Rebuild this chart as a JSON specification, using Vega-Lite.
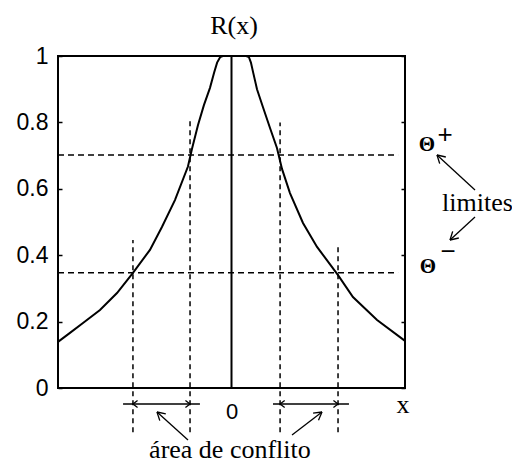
{
  "$schema": "https://vega.github.io/schema/vega-lite/v6.json",
  "width": 347,
  "height": 332,
  "autosize": {"type": "none"},
  "padding": {"left": 58, "top": 56, "right": 107, "bottom": 75},
  "background": "white",
  "config": {
    "view": {"stroke": "black", "strokeWidth": 2},
    "font": "Liberation Sans"
  },
  "datasets": {
    "curve": [
      {"x": -1.0, "y": 0.139}, {"x": -0.931, "y": 0.166}, {"x": -0.856, "y": 0.196},
      {"x": -0.758, "y": 0.235}, {"x": -0.66, "y": 0.286}, {"x": -0.568, "y": 0.347},
      {"x": -0.47, "y": 0.416}, {"x": -0.401, "y": 0.485}, {"x": -0.326, "y": 0.566},
      {"x": -0.251, "y": 0.667}, {"x": -0.228, "y": 0.72}, {"x": -0.193, "y": 0.792},
      {"x": -0.159, "y": 0.852}, {"x": -0.124, "y": 0.904}, {"x": -0.1, "y": 0.95},
      {"x": -0.083, "y": 0.98}, {"x": -0.065, "y": 0.997}, {"x": -0.05, "y": 1.0},
      {"x": 0.085, "y": 1.0}, {"x": 0.1, "y": 0.997}, {"x": 0.112, "y": 0.98},
      {"x": 0.125, "y": 0.95}, {"x": 0.147, "y": 0.9},
      {"x": 0.182, "y": 0.845}, {"x": 0.222, "y": 0.783}, {"x": 0.262, "y": 0.723},
      {"x": 0.291, "y": 0.66}, {"x": 0.337, "y": 0.587}, {"x": 0.412, "y": 0.497},
      {"x": 0.493, "y": 0.425}, {"x": 0.614, "y": 0.34}, {"x": 0.7, "y": 0.274},
      {"x": 0.839, "y": 0.205}, {"x": 1.0, "y": 0.142}
    ],
    "hlines": [{"y": 0.702}, {"y": 0.347}],
    "vlines": [
      {"x": -0.568, "top": 0.446, "bottom": -0.133},
      {"x": -0.239, "top": 0.813, "bottom": -0.133},
      {"x": 0.28, "top": 0.8, "bottom": -0.133},
      {"x": 0.614, "top": 0.43, "bottom": -0.133}
    ],
    "center": [{"x": 0}],
    "shafts": [
      {"x": -0.625, "x2": -0.182, "y": -0.048},
      {"x": 0.239, "x2": 0.677, "y": -0.048}
    ],
    "headsLeft": [{"x": -0.568, "y": -0.048}, {"x": 0.28, "y": -0.048}],
    "headsRight": [{"x": -0.239, "y": -0.048}, {"x": 0.614, "y": -0.048}],
    "segs": [
      {"x": -0.2507, "y": -0.1566, "x2": -0.4294, "y2": -0.0723},
      {"x": -0.4294, "y": -0.0723, "x2": -0.4133, "y2": -0.0982},
      {"x": -0.4294, "y": -0.0723, "x2": -0.3787, "y2": -0.078},
      {"x": 0.3487, "y": -0.1416, "x2": 0.5216, "y2": -0.0723},
      {"x": 0.5216, "y": -0.0723, "x2": 0.4703, "y2": -0.0759},
      {"x": 0.5216, "y": -0.0723, "x2": 0.5014, "y2": -0.0973},
      {"x": 1.4035, "y": 0.5964, "x2": 1.1844, "y2": 0.7018},
      {"x": 1.1844, "y": 0.7018, "x2": 1.2, "y2": 0.6759},
      {"x": 1.1844, "y": 0.7018, "x2": 1.2352, "y2": 0.6958},
      {"x": 1.4035, "y": 0.5151, "x2": 1.2594, "y2": 0.4458},
      {"x": 1.2594, "y": 0.4458, "x2": 1.3101, "y2": 0.4518},
      {"x": 1.2594, "y": 0.4458, "x2": 1.2749, "y2": 0.4717}
    ],
    "textsCenter": [
      {"x": 0.0144, "y": 1.066, "label": "R(x)"},
      {"x": 0.9885, "y": -0.0753, "label": "x"}
    ],
    "textsBottom": [
      {"x": -0.009, "y": -0.2259, "label": "área de conflito"}
    ],
    "textsLeft": [{"x": 1.2133, "y": 0.533, "label": "limites"}],
    "thetas": [
      {"x": 1.1268, "y": 0.732, "label": "Θ"},
      {"x": 1.1326, "y": 0.364, "label": "Θ"}
    ],
    "signs": [
      {"x": 1.2305, "y": 0.762, "label": "+"},
      {"x": 1.2478, "y": 0.4096, "label": "−"}
    ]
  },
  "resolve": {"axis": {"x": "independent", "y": "independent"}},
  "layer": [
    {
      "data": {"name": "curve"},
      "mark": {"type": "line", "color": "black", "strokeWidth": 2},
      "encoding": {
        "x": {"field": "x", "type": "quantitative",
              "scale": {"domain": [-1, 1], "nice": false, "zero": false},
              "axis": {"orient": "bottom", "values": [0], "title": null, "grid": false, "domain": false, "ticks": false,
                       "labelFontSize": 22, "labelColor": "black", "labelPadding": 13, "labelFont": "Liberation Sans"}},
        "y": {"field": "y", "type": "quantitative",
              "scale": {"domain": [0, 1], "nice": false, "zero": false},
              "axis": {"orient": "left", "values": [0, 0.2, 0.4, 0.6, 0.8, 1], "format": ".1~f", "title": null,
                       "grid": false, "domain": false, "tickSize": -4, "tickColor": "black", "tickWidth": 1.5,
                       "labelFontSize": 23, "labelColor": "black", "labelPadding": 14, "labelFont": "Liberation Sans"}}
      }
    },
    {
      "data": {"name": "hlines"},
      "mark": {"type": "rule", "color": "black", "strokeWidth": 1.5, "strokeDash": [6, 4]},
      "encoding": {
        "x": {"datum": -1, "type": "quantitative", "scale": {"domain": [-1, 1], "nice": false, "zero": false}, "axis": null},
        "x2": {"datum": 0.96},
        "y": {"field": "y", "type": "quantitative",
              "scale": {"domain": [0, 1], "nice": false, "zero": false},
              "axis": {"orient": "right", "values": [0, 0.2, 0.4, 0.6, 0.8, 1], "labels": false, "title": null,
                       "grid": false, "domain": false, "tickSize": -4, "tickColor": "black", "tickWidth": 1.5}}
      }
    },
    {
      "data": {"name": "vlines"},
      "mark": {"type": "rule", "color": "black", "strokeWidth": 1.5, "strokeDash": [5, 4]},
      "encoding": {
        "x": {"field": "x", "type": "quantitative", "scale": {"domain": [-1, 1], "nice": false, "zero": false}, "axis": null},
        "y": {"field": "bottom", "type": "quantitative", "scale": {"domain": [0, 1], "nice": false, "zero": false}, "axis": null},
        "y2": {"field": "top"}
      }
    },
    {
      "data": {"name": "center"},
      "mark": {"type": "rule", "color": "black", "strokeWidth": 2},
      "encoding": {
        "x": {"field": "x", "type": "quantitative", "scale": {"domain": [-1, 1], "nice": false, "zero": false}, "axis": null}
      }
    },
    {
      "data": {"name": "shafts"},
      "mark": {"type": "rule", "color": "black", "strokeWidth": 1.5},
      "encoding": {
        "x": {"field": "x", "type": "quantitative", "scale": {"domain": [-1, 1], "nice": false, "zero": false}, "axis": null},
        "x2": {"field": "x2"},
        "y": {"field": "y", "type": "quantitative", "scale": {"domain": [0, 1], "nice": false, "zero": false}, "axis": null}
      }
    },
    {
      "data": {"name": "headsLeft"},
      "mark": {"type": "point", "shape": "M1.3,-1L0,0L1.3,1", "size": 50, "filled": false, "stroke": "black", "strokeWidth": 1.3, "opacity": 1},
      "encoding": {
        "x": {"field": "x", "type": "quantitative", "scale": {"domain": [-1, 1], "nice": false, "zero": false}, "axis": null},
        "y": {"field": "y", "type": "quantitative", "scale": {"domain": [0, 1], "nice": false, "zero": false}, "axis": null}
      }
    },
    {
      "data": {"name": "headsRight"},
      "mark": {"type": "point", "shape": "M-1.3,-1L0,0L-1.3,1", "size": 50, "filled": false, "stroke": "black", "strokeWidth": 1.3, "opacity": 1},
      "encoding": {
        "x": {"field": "x", "type": "quantitative", "scale": {"domain": [-1, 1], "nice": false, "zero": false}, "axis": null},
        "y": {"field": "y", "type": "quantitative", "scale": {"domain": [0, 1], "nice": false, "zero": false}, "axis": null}
      }
    },
    {
      "data": {"name": "segs"},
      "mark": {"type": "rule", "color": "black", "strokeWidth": 1.3},
      "encoding": {
        "x": {"field": "x", "type": "quantitative", "scale": {"domain": [-1, 1], "nice": false, "zero": false}, "axis": null},
        "x2": {"field": "x2"},
        "y": {"field": "y", "type": "quantitative", "scale": {"domain": [0, 1], "nice": false, "zero": false}, "axis": null},
        "y2": {"field": "y2"}
      }
    },
    {
      "data": {"name": "textsCenter"},
      "mark": {"type": "text", "font": "Liberation Serif", "fontSize": 26, "align": "center", "baseline": "alphabetic", "color": "black"},
      "encoding": {
        "x": {"field": "x", "type": "quantitative", "scale": {"domain": [-1, 1], "nice": false, "zero": false}, "axis": null},
        "y": {"field": "y", "type": "quantitative", "scale": {"domain": [0, 1], "nice": false, "zero": false}, "axis": null},
        "text": {"field": "label"}
      }
    },
    {
      "data": {"name": "textsBottom"},
      "mark": {"type": "text", "font": "Liberation Serif", "fontSize": 26, "align": "center", "baseline": "bottom", "color": "black"},
      "encoding": {
        "x": {"field": "x", "type": "quantitative", "scale": {"domain": [-1, 1], "nice": false, "zero": false}, "axis": null},
        "y": {"field": "y", "type": "quantitative", "scale": {"domain": [0, 1], "nice": false, "zero": false}, "axis": null},
        "text": {"field": "label"}
      }
    },
    {
      "data": {"name": "textsLeft"},
      "mark": {"type": "text", "font": "Liberation Serif", "fontSize": 26, "align": "left", "baseline": "alphabetic", "color": "black"},
      "encoding": {
        "x": {"field": "x", "type": "quantitative", "scale": {"domain": [-1, 1], "nice": false, "zero": false}, "axis": null},
        "y": {"field": "y", "type": "quantitative", "scale": {"domain": [0, 1], "nice": false, "zero": false}, "axis": null},
        "text": {"field": "label"}
      }
    },
    {
      "data": {"name": "thetas"},
      "mark": {"type": "text", "font": "Liberation Serif", "fontSize": 21, "fontWeight": "bold", "align": "center", "baseline": "middle", "color": "black"},
      "encoding": {
        "x": {"field": "x", "type": "quantitative", "scale": {"domain": [-1, 1], "nice": false, "zero": false}, "axis": null},
        "y": {"field": "y", "type": "quantitative", "scale": {"domain": [0, 1], "nice": false, "zero": false}, "axis": null},
        "text": {"field": "label"}
      }
    },
    {
      "data": {"name": "signs"},
      "mark": {"type": "text", "font": "Liberation Sans", "fontSize": 26, "align": "center", "baseline": "middle", "color": "black"},
      "encoding": {
        "x": {"field": "x", "type": "quantitative", "scale": {"domain": [-1, 1], "nice": false, "zero": false}, "axis": null},
        "y": {"field": "y", "type": "quantitative", "scale": {"domain": [0, 1], "nice": false, "zero": false}, "axis": null},
        "text": {"field": "label"}
      }
    }
  ]
}
